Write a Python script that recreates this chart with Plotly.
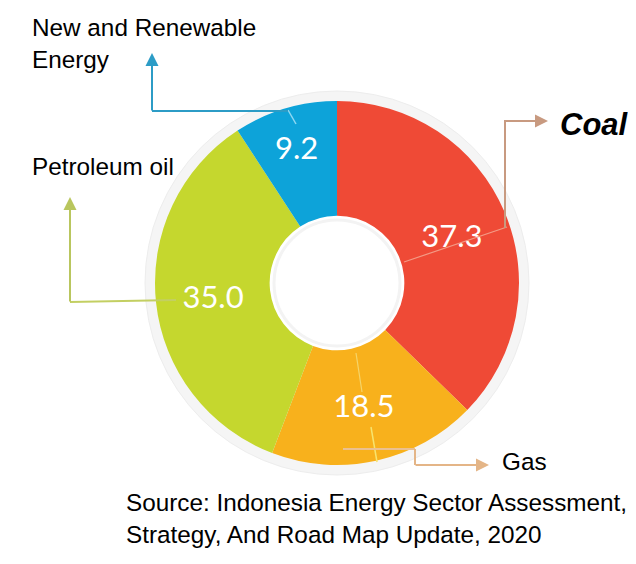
import plotly.graph_objects as go

# ---- data ----
categories = ["Coal", "Gas", "Petroleum oil", "New and Renewable Energy"]
shares = [37.3, 18.5, 35.0, 9.2]
value_labels = ["37.3", "18.5", "35.0", "9.2"]
slice_colors = ["#EF4A36", "#F8B11C", "#C5D72E", "#0DA3D9"]
source_text = "Source: Indonesia Energy Sector Assessment,<br>Strategy, And Road Map Update, 2020"

OFF = 8                     # page body margin
W, H = 628, 556             # figure size
CX, CY, R = 337, 283, 182   # page pixel geometry of the donut


def px(x):
    return (x - OFF) / W


def py(y):
    return 1 - (y - OFF) / H


fig = go.Figure()
fig.add_trace(go.Pie(
    labels=categories,
    values=shares,
    text=value_labels,
    texttemplate="%{text}",
    textposition="inside",
    insidetextorientation="horizontal",
    textfont=dict(family="Lato, Open Sans, sans-serif", size=31, color="white"),
    marker=dict(colors=slice_colors, line=dict(width=0)),
    hole=0.37,
    sort=False,
    direction="clockwise",
    rotation=0,
    showlegend=False,
    hoverinfo="label+value",
    domain=dict(x=[px(CX - R), px(CX + R)], y=[py(CY + R), py(CY - R)]),
))

shapes = []


def circle(r, fill, line_color, lw, layer):
    shapes.append(dict(type="circle", xref="paper", yref="paper", layer=layer,
                       x0=px(CX - r), x1=px(CX + r), y0=py(CY + r), y1=py(CY - r),
                       fillcolor=fill, line=dict(color=line_color, width=lw)))


circle(192, "#F5F5F5", "#EDEDED", 1, "below")   # outer faint ring
circle(68, "white", "white", 0, "below")          # hole background
circle(63, "rgba(0,0,0,0)", "#F3F3F3", 3, "above")  # faint ring inside hole


def seg(x0, y0, x1, y1, color, width=2):
    shapes.append(dict(type="line", xref="paper", yref="paper", layer="above",
                       x0=px(x0), y0=py(y0), x1=px(x1), y1=py(y1),
                       line=dict(color=color, width=width)))


# NRE connector (blue)
seg(296, 124, 288, 110, "#8FD8F2", 1.5)
seg(288, 111, 152, 111, "#2C9CC6", 2)
# Coal connector (tan)
seg(404, 262, 507, 227, "#F39A85", 1.2)
seg(505, 228, 505, 120, "#C89A80", 2)
# Petroleum connector (olive)
seg(176, 300, 70, 302, "#C3CF62", 2)
# Gas connector
seg(356, 353, 362, 392, "#F5D56A", 1.2)
seg(371, 427, 377, 462, "#F7E46E", 1.5)
seg(343, 449, 415, 449, "#EBC08F", 2)
seg(415, 449, 415, 465, "#E4B587", 2)

annotations = []


def arrow(tail_x, tail_y, head_x, head_y, color):
    annotations.append(dict(xref="paper", yref="paper", x=px(head_x), y=py(head_y),
                            ax=tail_x - head_x, ay=tail_y - head_y, text="",
                            showarrow=True, arrowhead=2, arrowsize=1.3,
                            arrowwidth=2, arrowcolor=color, standoff=0))


arrow(152, 112, 152, 53, "#2C9CC6")
arrow(504, 121, 548, 121, "#C89A80")
arrow(70, 303, 70, 197, "#B9C65E")
arrow(414, 465, 489, 465, "#E4B587")

TF = "Arial, Liberation Sans, sans-serif"


def label(text, x, y, size=24.3, anchor="left"):
    annotations.append(dict(xref="paper", yref="paper", x=px(x), y=py(y), text=text,
                            showarrow=False, xanchor=anchor, yanchor="middle", align="left",
                            font=dict(family=TF, size=size, color="black")))


label("New and Renewable<br>Energy", 30, 43)
label("Petroleum oil", 30, 166)
label("<b><i>Coal</i></b>", 558, 124, size=31)
label("Gas", 500, 461)
label(source_text, 124, 518, size=24.3)

fig.update_layout(
    width=W, height=H,
    margin=dict(l=0, r=0, t=0, b=0),
    paper_bgcolor="white",
    plot_bgcolor="white",
    shapes=shapes,
    annotations=annotations,
)

fig.write_html("out.html")
